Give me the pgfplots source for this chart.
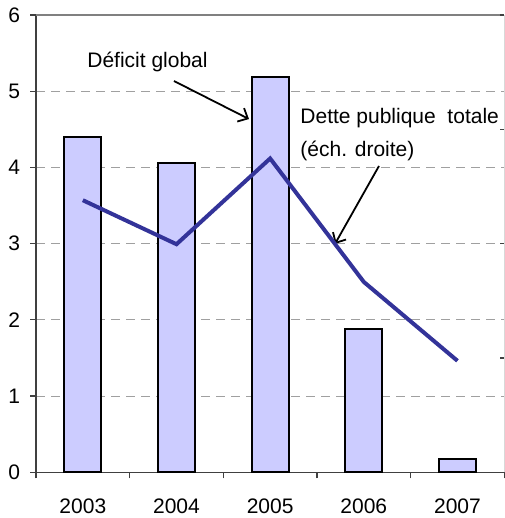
\documentclass[border=0pt]{standalone}
\usepackage{fontspec}
\setmainfont{Liberation Sans}
\usepackage{pgfplots}
\usepackage{pgfplotstable}
\pgfplotsset{compat=1.18}
\usetikzlibrary{arrows.meta}

\definecolor{barfill}{HTML}{CCCCFF}
\definecolor{detteline}{HTML}{333399}
\definecolor{gridgray}{HTML}{A0A0A0}
\definecolor{axisdark}{HTML}{404040}
\definecolor{topgray}{HTML}{808080}
\definecolor{rightgray}{HTML}{D8D8D8}

% Déficit global (left scale)
\pgfplotstableread{
x deficit
0 4.40
1 4.06
2 5.19
3 1.88
4 0.175
}\deficit

% Dette publique totale (right scale)
\pgfplotstableread{
x dette
0 47.6
1 39.9
2 54.9
3 33.3
4 19.5
}\dette

\begin{document}
\begin{tikzpicture}[font=\fontsize{10.5}{12.6}\selectfont]
\begin{axis}[
  name=main,
  scale only axis,
  width=234.15pt, height=228.65pt,
  xmin=-0.5, xmax=4.5, ymin=0, ymax=6,
  axis x line*=bottom, axis y line*=left,
  axis line style={axisdark, line width=0.6pt},
  tick align=outside,
  major tick length=3pt,
  tick style={axisdark, line width=0.6pt},
  xtick={-0.5,0.5,...,4.5}, xticklabels={},
  extra x ticks={0,1,2,3,4},
  extra x tick labels={2003,2004,2005,2006,2007},
  extra x tick style={major tick length=0pt, xticklabel style={yshift=-9.6pt}},
  ytick={0,1,...,6},
  yticklabel style={xshift=-1.5pt},
  /pgf/number format/assume math mode=true,
  ymajorgrids,
  grid style={gridgray, dash pattern=on 4.5pt off 3pt, line width=0.5pt},
  clip=false,
]
\addplot[ybar, bar width=18.5pt, fill=barfill, draw=black, line width=1pt]
  table[x=x, y=deficit]{\deficit};
\draw[topgray, line width=0.6pt] (rel axis cs:0,1) -- (rel axis cs:1,1);

\node[anchor=base west, inner sep=0pt] at (axis cs:0.0445,5.308) {Déficit global};
\draw[black, line width=0.9pt, -{Straight Barb[length=4pt, width=7.5pt]}]
  (axis cs:0.973,5.134) -- (axis cs:1.774,4.635);

\node[anchor=base west, inner sep=0pt] at (axis cs:2.319,4.579) {Dette publique\ \ totale};
\node[anchor=base west, inner sep=0pt] at (axis cs:2.319,4.150) {(éch. droite)};
\draw[black, line width=0.9pt, -{Straight Barb[length=4pt, width=7.5pt]}]
  (axis cs:3.162,4.019) -- (axis cs:2.692,2.996);
\end{axis}

\begin{axis}[
  scale only axis,
  width=234.15pt, height=228.65pt,
  xmin=-0.5, xmax=4.5, ymin=0, ymax=80,
  axis x line=none, axis y line*=right,
  axis line style={rightgray, line width=0.5pt},
  ytick={0,20,...,80}, yticklabels={},
  tick align=inside,
  major tick length=2pt,
  tick style={axisdark, line width=0.6pt},
]
\addplot[detteline, line width=2pt, line join=miter]
  table[x=x, y=dette]{\dette};
\end{axis}

\pgfresetboundingbox
\path ([shift={(-18pt,-22.85pt)}]main.south west)
  rectangle ([shift={(0.35pt,7.5pt)}]main.north east);
\end{tikzpicture}
\end{document}
